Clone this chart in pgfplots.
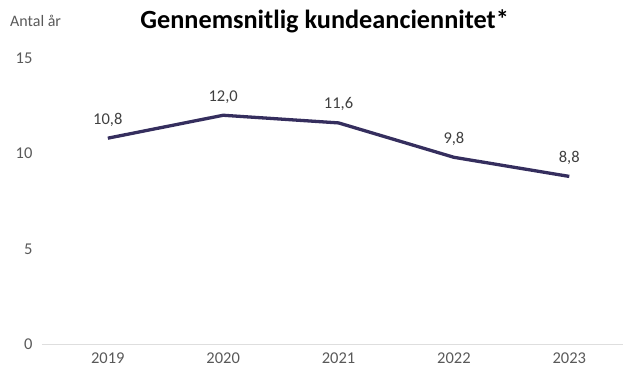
\documentclass[border=0pt]{standalone}
\usepackage{fontspec}
\setmainfont{Carlito}
\usepackage{pgfplots}
\pgfplotsset{compat=1.18}
\definecolor{lineC}{HTML}{352E5E}
\definecolor{tickC}{HTML}{595959}
\definecolor{lblC}{HTML}{404040}
\begin{document}
\begin{tikzpicture}[x=1pt,y=1pt]
\begin{axis}[
  scale only axis,
  width=582pt, height=287pt,
  xmin=-0.571, xmax=4.468,
  ymin=0, ymax=15,
  ytick={0,5,10,15},
  xtick={0,1,2,3,4},
  xticklabels={2019,2020,2021,2022,2023},
  axis line style={draw=none},
  tick style={draw=none},
  ymajorgrids=false,
  extra y ticks={0},
  extra y tick style={grid=major, major grid style={draw=black!13, line width=1.5pt}, yticklabels={}},
  tick label style={font=\fontsize{16.5}{19}\selectfont, text=tickC},
  /pgf/number format/assume math mode=true,
  yticklabel style={xshift=-6pt},
  xticklabel style={yshift=-5pt},
  clip=false,
]
\addplot[lineC, line width=3.3pt, line join=round,
  nodes near coords,
  nodes near coords style={font=\fontsize{16.5}{19}\selectfont, text=lblC, yshift=7pt,
     /pgf/number format/.cd, fixed, fixed zerofill, precision=1, use comma, assume math mode=true},
] coordinates {(0,10.8) (1,12.0) (2,11.6) (3,9.8) (4,8.8)};
\end{axis}
\node[anchor=west, text=tickC, font=\fontsize{16}{18}\selectfont, inner sep=0pt] at (-32pt,324pt) {Antal år};
\node[font=\fontsize{26.3}{30}\selectfont\bfseries] at (283pt,324pt) {Gennemsnitlig kundeanciennitet*};
\useasboundingbox (-42pt,-35pt) rectangle (582pt,345pt);
\end{tikzpicture}
\end{document}
